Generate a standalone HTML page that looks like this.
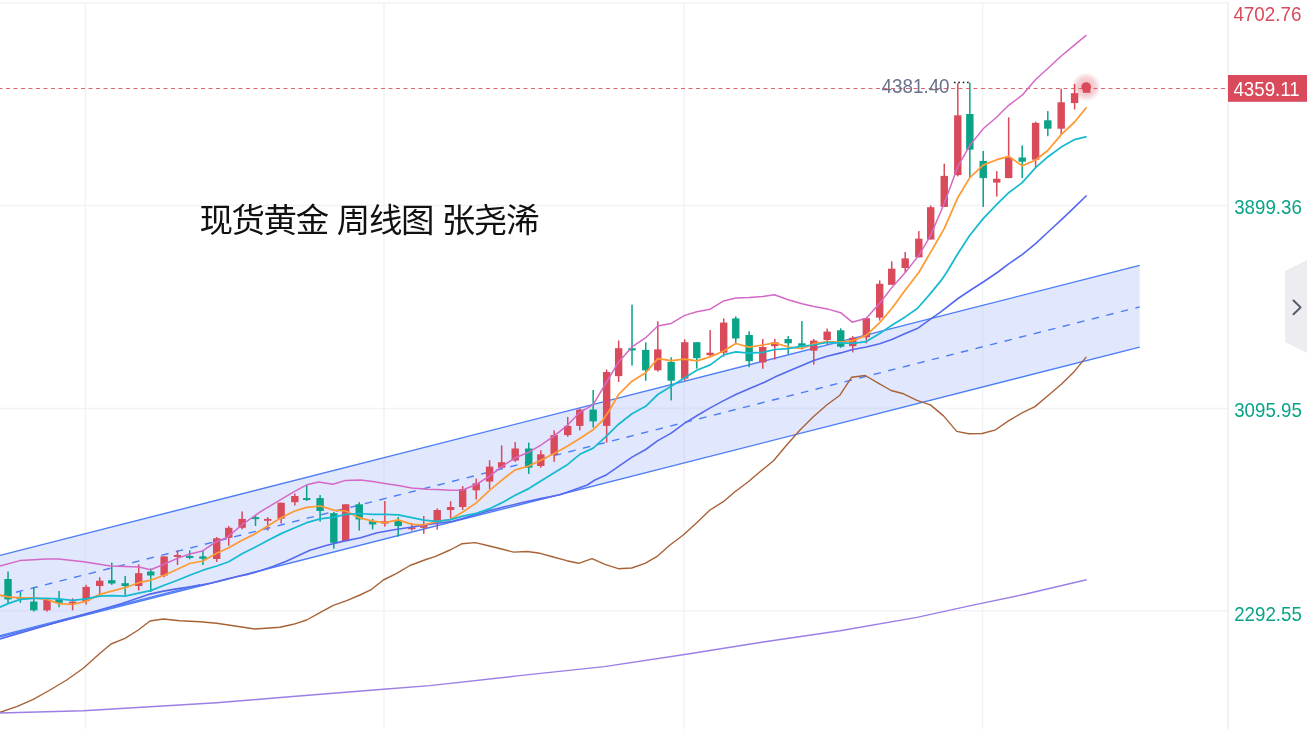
<!DOCTYPE html>
<html lang="zh-CN"><head><meta charset="utf-8"><title>现货黄金 周线图</title>
<style>html,body{margin:0;padding:0;background:#fff}body{width:1307px;height:729px;overflow:hidden;position:relative}svg{display:block;position:absolute;left:0;top:0}.ax{font-family:"Liberation Sans","Noto Sans CJK SC",sans-serif;font-size:20.2px}.ttl{font-family:"Liberation Sans","Noto Sans CJK SC",sans-serif;font-size:33.5px;letter-spacing:-1.4px;fill:#111}</style></head><body>
<svg width="1307" height="729" viewBox="0 0 1307 729">
<rect width="1307" height="729" fill="#fff"/>
<g stroke="#f1f3f7" stroke-width="1.5" fill="none">
<line x1="0" y1="205.5" x2="1228" y2="205.5"/>
<line x1="0" y1="408.4" x2="1228" y2="408.4"/>
<line x1="0" y1="610.7" x2="1228" y2="610.7"/>
<line x1="85.4" y1="3" x2="85.4" y2="729"/>
<line x1="384.0" y1="3" x2="384.0" y2="729"/>
<line x1="684.2" y1="3" x2="684.2" y2="729"/>
<line x1="982.6" y1="3" x2="982.6" y2="729"/>
</g>
<rect x="0" y="1.8" width="1229" height="2" fill="#f3f5f9"/>
<rect x="1227.3" y="2" width="1.8" height="727" fill="#eef0f5"/>
<polygon points="0,555.4 1139.7,265.4 1139.7,347.1 0,636.8" fill="#e1e8fd"/>
<g stroke="#d8e0f7" stroke-width="1.6" fill="none" clip-path="url(#chc)">
<line x1="0" y1="408.4" x2="1228" y2="408.4"/>
<line x1="0" y1="610.7" x2="1228" y2="610.7"/>
<line x1="85.4" y1="3" x2="85.4" y2="729"/>
<line x1="384.0" y1="3" x2="384.0" y2="729"/>
<line x1="684.2" y1="3" x2="684.2" y2="729"/>
<line x1="982.6" y1="3" x2="982.6" y2="729"/>
</g>
<defs><clipPath id="chc"><polygon points="0,555.4 1139.7,265.4 1139.7,347.1 0,636.8"/></clipPath></defs>
<g stroke="#4c7df6" stroke-width="1.4" fill="none">
<line x1="0" y1="555.4" x2="1139.7" y2="265.4"/>
<line x1="0" y1="636.8" x2="1139.7" y2="347.1"/>
<line x1="0" y1="635.6" x2="200" y2="584.6"/>
<line x1="0" y1="596.3" x2="1139.7" y2="306.9" stroke-dasharray="7.5 7.5" stroke-dashoffset="-1.4"/>
</g>
<line x1="-1.5" y1="88.5" x2="1225" y2="88.5" stroke="#d94a5a" stroke-width="1" stroke-dasharray="4 3.5" opacity="0.85"/>
<rect x="7.28" y="571.5" width="1.5" height="31.5" fill="#0aa387"/>
<rect x="4.33" y="579.0" width="7.4" height="20.4" fill="#0aa387"/>
<rect x="19.66" y="592.0" width="1.5" height="10.8" fill="#0aa387"/>
<rect x="16.71" y="597.0" width="7.4" height="1.9" fill="#0aa387"/>
<rect x="33.05" y="586.9" width="1.5" height="24.7" fill="#0aa387"/>
<rect x="30.10" y="601.6" width="7.4" height="8.7" fill="#0aa387"/>
<rect x="46.26" y="600.0" width="1.5" height="11.6" fill="#d94a5a"/>
<rect x="43.31" y="600.0" width="7.4" height="10.3" fill="#d94a5a"/>
<rect x="58.31" y="591.0" width="1.5" height="16.3" fill="#0aa387"/>
<rect x="55.36" y="599.4" width="7.4" height="3.4" fill="#0aa387"/>
<rect x="71.86" y="598.3" width="1.5" height="12.0" fill="#d94a5a"/>
<rect x="68.91" y="601.6" width="7.4" height="1.9" fill="#d94a5a"/>
<rect x="85.41" y="584.9" width="1.5" height="19.6" fill="#d94a5a"/>
<rect x="82.46" y="586.9" width="7.4" height="14.2" fill="#d94a5a"/>
<rect x="98.97" y="577.3" width="1.5" height="17.1" fill="#d94a5a"/>
<rect x="96.02" y="580.7" width="7.4" height="5.3" fill="#d94a5a"/>
<rect x="111.01" y="562.6" width="1.5" height="22.3" fill="#0aa387"/>
<rect x="108.06" y="580.2" width="7.4" height="3.3" fill="#0aa387"/>
<rect x="124.40" y="576.0" width="1.5" height="19.0" fill="#0aa387"/>
<rect x="121.45" y="583.2" width="7.4" height="2.8" fill="#0aa387"/>
<rect x="137.95" y="564.3" width="1.5" height="26.3" fill="#d94a5a"/>
<rect x="135.00" y="573.2" width="7.4" height="12.8" fill="#d94a5a"/>
<rect x="149.99" y="568.5" width="1.5" height="23.4" fill="#0aa387"/>
<rect x="147.04" y="571.5" width="7.4" height="4.0" fill="#0aa387"/>
<rect x="163.38" y="556.4" width="1.5" height="20.9" fill="#d94a5a"/>
<rect x="160.43" y="556.4" width="7.4" height="19.1" fill="#d94a5a"/>
<rect x="176.76" y="550.4" width="1.5" height="14.6" fill="#d94a5a"/>
<rect x="173.81" y="555.0" width="7.4" height="1.9" fill="#d94a5a"/>
<rect x="188.98" y="550.4" width="1.5" height="8.9" fill="#0aa387"/>
<rect x="186.03" y="556.0" width="7.4" height="1.9" fill="#0aa387"/>
<rect x="202.19" y="551.0" width="1.5" height="14.0" fill="#0aa387"/>
<rect x="199.24" y="556.4" width="7.4" height="2.4" fill="#0aa387"/>
<rect x="215.93" y="537.0" width="1.5" height="25.0" fill="#d94a5a"/>
<rect x="212.98" y="538.3" width="7.4" height="20.7" fill="#d94a5a"/>
<rect x="227.99" y="526.0" width="1.5" height="19.7" fill="#d94a5a"/>
<rect x="225.04" y="527.8" width="7.4" height="10.0" fill="#d94a5a"/>
<rect x="241.37" y="511.5" width="1.5" height="17.9" fill="#d94a5a"/>
<rect x="238.42" y="518.9" width="7.4" height="8.9" fill="#d94a5a"/>
<rect x="254.76" y="515.2" width="1.5" height="10.8" fill="#0aa387"/>
<rect x="251.81" y="517.2" width="7.4" height="1.9" fill="#0aa387"/>
<rect x="266.97" y="517.2" width="1.5" height="13.4" fill="#d94a5a"/>
<rect x="264.02" y="518.9" width="7.4" height="1.9" fill="#d94a5a"/>
<rect x="280.36" y="502.7" width="1.5" height="20.9" fill="#d94a5a"/>
<rect x="277.41" y="502.7" width="7.4" height="15.9" fill="#d94a5a"/>
<rect x="294.08" y="493.5" width="1.5" height="12.0" fill="#d94a5a"/>
<rect x="291.13" y="496.0" width="7.4" height="6.2" fill="#d94a5a"/>
<rect x="305.95" y="485.1" width="1.5" height="15.9" fill="#0aa387"/>
<rect x="303.00" y="498.1" width="7.4" height="1.9" fill="#0aa387"/>
<rect x="319.34" y="495.1" width="1.5" height="26.5" fill="#0aa387"/>
<rect x="316.39" y="498.1" width="7.4" height="12.9" fill="#0aa387"/>
<rect x="333.06" y="511.9" width="1.5" height="36.8" fill="#0aa387"/>
<rect x="330.11" y="513.2" width="7.4" height="29.6" fill="#0aa387"/>
<rect x="344.94" y="504.3" width="1.5" height="36.8" fill="#d94a5a"/>
<rect x="341.99" y="504.3" width="7.4" height="36.8" fill="#d94a5a"/>
<rect x="358.49" y="502.2" width="1.5" height="28.4" fill="#0aa387"/>
<rect x="355.54" y="504.3" width="7.4" height="15.1" fill="#0aa387"/>
<rect x="371.87" y="518.9" width="1.5" height="10.5" fill="#0aa387"/>
<rect x="368.92" y="521.1" width="7.4" height="3.3" fill="#0aa387"/>
<rect x="384.09" y="501.0" width="1.5" height="25.6" fill="#d94a5a"/>
<rect x="381.14" y="521.1" width="7.4" height="2.5" fill="#d94a5a"/>
<rect x="397.47" y="516.9" width="1.5" height="19.7" fill="#0aa387"/>
<rect x="394.52" y="521.1" width="7.4" height="5.0" fill="#0aa387"/>
<rect x="411.02" y="523.2" width="1.5" height="7.5" fill="#d94a5a"/>
<rect x="408.07" y="527.3" width="7.4" height="1.9" fill="#d94a5a"/>
<rect x="423.00" y="516.0" width="1.5" height="17.8" fill="#d94a5a"/>
<rect x="420.05" y="524.8" width="7.4" height="3.0" fill="#d94a5a"/>
<rect x="436.48" y="508.4" width="1.5" height="21.2" fill="#d94a5a"/>
<rect x="433.53" y="510.0" width="7.4" height="11.3" fill="#d94a5a"/>
<rect x="449.87" y="501.2" width="1.5" height="17.5" fill="#d94a5a"/>
<rect x="446.92" y="507.0" width="7.4" height="3.0" fill="#d94a5a"/>
<rect x="461.91" y="486.1" width="1.5" height="23.9" fill="#d94a5a"/>
<rect x="458.96" y="489.0" width="7.4" height="18.0" fill="#d94a5a"/>
<rect x="475.47" y="478.6" width="1.5" height="20.9" fill="#d94a5a"/>
<rect x="472.52" y="483.3" width="7.4" height="7.0" fill="#d94a5a"/>
<rect x="488.85" y="460.2" width="1.5" height="28.8" fill="#d94a5a"/>
<rect x="485.90" y="466.6" width="7.4" height="15.0" fill="#d94a5a"/>
<rect x="500.90" y="445.5" width="1.5" height="23.1" fill="#d94a5a"/>
<rect x="497.95" y="462.2" width="7.4" height="5.5" fill="#d94a5a"/>
<rect x="514.45" y="442.1" width="1.5" height="19.8" fill="#d94a5a"/>
<rect x="511.50" y="448.5" width="7.4" height="12.0" fill="#d94a5a"/>
<rect x="528.00" y="442.6" width="1.5" height="31.3" fill="#0aa387"/>
<rect x="525.05" y="448.5" width="7.4" height="19.2" fill="#0aa387"/>
<rect x="540.05" y="450.2" width="1.5" height="17.5" fill="#d94a5a"/>
<rect x="537.10" y="454.3" width="7.4" height="11.7" fill="#d94a5a"/>
<rect x="553.43" y="430.4" width="1.5" height="31.5" fill="#d94a5a"/>
<rect x="550.48" y="435.1" width="7.4" height="19.7" fill="#d94a5a"/>
<rect x="566.98" y="417.0" width="1.5" height="19.8" fill="#d94a5a"/>
<rect x="564.03" y="425.9" width="7.4" height="9.2" fill="#d94a5a"/>
<rect x="579.05" y="408.5" width="1.5" height="21.9" fill="#d94a5a"/>
<rect x="576.10" y="409.6" width="7.4" height="16.3" fill="#d94a5a"/>
<rect x="592.43" y="390.0" width="1.5" height="37.6" fill="#0aa387"/>
<rect x="589.48" y="409.6" width="7.4" height="11.8" fill="#0aa387"/>
<rect x="605.90" y="369.5" width="1.5" height="73.1" fill="#d94a5a"/>
<rect x="602.95" y="372.0" width="7.4" height="53.9" fill="#d94a5a"/>
<rect x="617.89" y="340.5" width="1.5" height="41.5" fill="#d94a5a"/>
<rect x="614.94" y="348.2" width="7.4" height="27.9" fill="#d94a5a"/>
<rect x="631.27" y="304.7" width="1.5" height="60.9" fill="#0aa387"/>
<rect x="628.32" y="348.2" width="7.4" height="2.3" fill="#0aa387"/>
<rect x="644.99" y="342.3" width="1.5" height="38.4" fill="#0aa387"/>
<rect x="642.04" y="349.9" width="7.4" height="20.4" fill="#0aa387"/>
<rect x="657.03" y="321.3" width="1.5" height="50.3" fill="#d94a5a"/>
<rect x="654.08" y="349.4" width="7.4" height="20.9" fill="#d94a5a"/>
<rect x="670.42" y="357.2" width="1.5" height="43.2" fill="#0aa387"/>
<rect x="667.47" y="361.9" width="7.4" height="18.8" fill="#0aa387"/>
<rect x="683.97" y="339.3" width="1.5" height="41.4" fill="#d94a5a"/>
<rect x="681.02" y="342.2" width="7.4" height="36.5" fill="#d94a5a"/>
<rect x="696.02" y="342.2" width="1.5" height="26.4" fill="#0aa387"/>
<rect x="693.07" y="342.2" width="7.4" height="16.0" fill="#0aa387"/>
<rect x="709.40" y="330.1" width="1.5" height="26.0" fill="#d94a5a"/>
<rect x="706.45" y="352.7" width="7.4" height="2.5" fill="#d94a5a"/>
<rect x="722.95" y="318.4" width="1.5" height="38.2" fill="#d94a5a"/>
<rect x="720.00" y="322.6" width="7.4" height="30.1" fill="#d94a5a"/>
<rect x="735.00" y="316.4" width="1.5" height="27.5" fill="#0aa387"/>
<rect x="732.05" y="318.4" width="7.4" height="20.1" fill="#0aa387"/>
<rect x="748.41" y="331.3" width="1.5" height="35.9" fill="#0aa387"/>
<rect x="745.46" y="335.0" width="7.4" height="26.2" fill="#0aa387"/>
<rect x="762.00" y="339.0" width="1.5" height="29.8" fill="#d94a5a"/>
<rect x="759.05" y="347.0" width="7.4" height="15.4" fill="#d94a5a"/>
<rect x="774.05" y="339.0" width="1.5" height="20.5" fill="#d94a5a"/>
<rect x="771.10" y="342.3" width="7.4" height="3.9" fill="#d94a5a"/>
<rect x="787.43" y="336.1" width="1.5" height="17.9" fill="#0aa387"/>
<rect x="784.48" y="339.0" width="7.4" height="4.3" fill="#0aa387"/>
<rect x="801.15" y="321.1" width="1.5" height="27.6" fill="#0aa387"/>
<rect x="798.20" y="343.3" width="7.4" height="3.4" fill="#0aa387"/>
<rect x="813.03" y="339.0" width="1.5" height="25.6" fill="#d94a5a"/>
<rect x="810.08" y="340.6" width="7.4" height="10.1" fill="#d94a5a"/>
<rect x="826.42" y="328.6" width="1.5" height="16.4" fill="#d94a5a"/>
<rect x="823.47" y="331.6" width="7.4" height="8.4" fill="#d94a5a"/>
<rect x="839.97" y="328.3" width="1.5" height="19.5" fill="#0aa387"/>
<rect x="837.02" y="330.3" width="7.4" height="16.4" fill="#0aa387"/>
<rect x="852.02" y="336.1" width="1.5" height="16.3" fill="#d94a5a"/>
<rect x="849.07" y="337.8" width="7.4" height="8.4" fill="#d94a5a"/>
<rect x="865.57" y="318.2" width="1.5" height="25.1" fill="#d94a5a"/>
<rect x="862.62" y="318.2" width="7.4" height="19.1" fill="#d94a5a"/>
<rect x="878.95" y="280.4" width="1.5" height="40.2" fill="#d94a5a"/>
<rect x="876.00" y="283.8" width="7.4" height="33.9" fill="#d94a5a"/>
<rect x="890.98" y="261.3" width="1.5" height="23.5" fill="#d94a5a"/>
<rect x="888.03" y="268.7" width="7.4" height="16.1" fill="#d94a5a"/>
<rect x="904.45" y="252.0" width="1.5" height="20.5" fill="#d94a5a"/>
<rect x="901.50" y="258.4" width="7.4" height="9.6" fill="#d94a5a"/>
<rect x="918.07" y="231.1" width="1.5" height="26.3" fill="#d94a5a"/>
<rect x="915.12" y="238.7" width="7.4" height="18.7" fill="#d94a5a"/>
<rect x="929.94" y="205.5" width="1.5" height="34.0" fill="#d94a5a"/>
<rect x="926.99" y="207.2" width="7.4" height="32.3" fill="#d94a5a"/>
<rect x="943.50" y="163.7" width="1.5" height="43.2" fill="#d94a5a"/>
<rect x="940.55" y="175.9" width="7.4" height="31.0" fill="#d94a5a"/>
<rect x="957.05" y="83.2" width="1.5" height="93.2" fill="#d94a5a"/>
<rect x="954.10" y="115.3" width="7.4" height="59.8" fill="#d94a5a"/>
<rect x="969.09" y="82.7" width="1.5" height="94.4" fill="#0aa387"/>
<rect x="966.14" y="114.0" width="7.4" height="35.6" fill="#0aa387"/>
<rect x="982.48" y="151.0" width="1.5" height="55.9" fill="#0aa387"/>
<rect x="979.53" y="160.9" width="7.4" height="17.2" fill="#0aa387"/>
<rect x="996.03" y="171.2" width="1.5" height="25.3" fill="#d94a5a"/>
<rect x="993.08" y="178.8" width="7.4" height="3.8" fill="#d94a5a"/>
<rect x="1007.91" y="117.3" width="1.5" height="60.8" fill="#d94a5a"/>
<rect x="1004.96" y="157.4" width="7.4" height="20.7" fill="#d94a5a"/>
<rect x="1021.46" y="145.4" width="1.5" height="32.7" fill="#0aa387"/>
<rect x="1018.51" y="157.5" width="7.4" height="4.2" fill="#0aa387"/>
<rect x="1034.85" y="121.7" width="1.5" height="45.9" fill="#d94a5a"/>
<rect x="1031.90" y="122.9" width="7.4" height="36.8" fill="#d94a5a"/>
<rect x="1047.06" y="111.1" width="1.5" height="25.1" fill="#0aa387"/>
<rect x="1044.11" y="120.3" width="7.4" height="8.4" fill="#0aa387"/>
<rect x="1060.44" y="88.6" width="1.5" height="46.0" fill="#d94a5a"/>
<rect x="1057.49" y="102.3" width="7.4" height="26.4" fill="#d94a5a"/>
<rect x="1073.83" y="83.9" width="1.5" height="25.6" fill="#d94a5a"/>
<rect x="1070.88" y="93.2" width="7.4" height="9.9" fill="#d94a5a"/>
<path d="M0.0 712.3 L16.7 706.7 L33.3 699.3 L50.0 690.0 L66.7 680.0 L83.3 668.3 L100.0 653.3 L111.0 644.0 L125.0 638.3 L138.3 630.0 L150.0 621.0 L163.3 619.0 L180.0 620.7 L200.0 621.7 L216.7 623.3 L233.3 625.7 L255.0 629.0 L280.0 627.3 L293.3 624.3 L306.7 620.0 L320.0 612.7 L333.3 605.3 L346.7 600.7 L360.0 595.0 L371.7 589.3 L383.3 580.0 L396.7 573.3 L410.0 565.5 L425.9 559.5 L435.0 556.7 L450.0 550.0 L461.7 543.8 L475.3 542.6 L488.3 545.7 L501.7 549.0 L513.6 552.1 L527.2 551.5 L540.0 553.3 L553.3 557.0 L566.7 560.7 L578.7 563.3 L592.0 558.7 L605.0 564.3 L618.3 568.7 L631.7 568.0 L645.0 563.3 L656.7 556.7 L670.0 545.0 L683.3 535.0 L696.7 522.7 L710.0 510.0 L723.3 501.7 L735.0 491.7 L748.3 481.7 L760.0 471.7 L773.3 461.0 L786.7 445.0 L800.0 430.0 L813.3 416.7 L826.7 405.0 L839.9 395.2 L851.7 377.2 L865.2 375.5 L878.7 383.4 L891.1 390.5 L903.5 393.8 L917.0 400.4 L930.4 404.9 L943.5 415.9 L956.7 431.4 L968.7 433.7 L982.2 433.5 L995.6 429.8 L1008.1 421.1 L1021.5 413.2 L1035.0 406.6 L1048.4 395.2 L1061.9 383.8 L1074.3 371.4 L1086.3 356.9" stroke="#a86236" stroke-width="1.4" fill="none" stroke-linejoin="round"/>
<path d="M0.0 638.9 L42.5 626.6 L85.0 614.3 L122.0 603.5 L150.0 594.1 L162.3 591.4 L174.7 589.1 L187.0 587.3 L199.4 585.4 L211.7 583.0 L224.1 579.9 L236.4 576.8 L248.8 574.1 L261.1 570.6 L273.5 566.3 L285.8 561.4 L298.1 555.8 L310.0 550.2 L327.1 545.3 L343.8 541.1 L360.6 537.8 L377.3 532.8 L394.0 529.8 L412.3 527.0 L424.7 524.9 L437.0 523.3 L450.0 521.9 L461.7 518.8 L474.1 515.1 L486.4 511.4 L503.7 507.0 L523.5 502.3 L542.0 498.4 L560.0 494.7 L570.6 491.0 L587.3 485.0 L594.9 480.0 L606.7 474.7 L618.6 466.3 L632.0 457.1 L645.7 449.5 L657.8 440.6 L671.2 433.1 L684.7 423.1 L696.8 415.8 L710.2 407.9 L723.7 400.6 L735.8 394.5 L749.1 388.7 L758.0 385.0 L765.1 382.0 L774.8 377.1 L788.2 371.3 L801.9 365.4 L813.8 360.4 L827.2 356.2 L840.7 352.9 L852.8 349.5 L866.3 347.0 L879.7 343.7 L891.8 339.5 L905.3 333.6 L917.3 328.6 L929.1 320.2 L940.8 311.9 L958.0 298.5 L970.0 290.5 L984.0 281.5 L998.0 272.0 L1008.7 263.8 L1022.2 254.6 L1035.6 243.7 L1048.1 232.0 L1060.7 220.3 L1074.1 207.7 L1086.6 195.5" stroke="#5569ee" stroke-width="1.6" fill="none" stroke-linejoin="round"/>
<path d="M0.0 566.0 L20.0 560.6 L46.8 559.0 L58.6 559.0 L83.7 561.8 L110.4 566.0 L138.9 567.1 L150.6 569.7 L164.0 564.3 L177.4 558.4 L189.0 554.3 L202.4 550.9 L216.7 541.5 L226.7 537.8 L243.5 523.6 L260.2 511.9 L276.9 501.8 L293.7 491.8 L306.7 484.8 L318.8 482.1 L333.0 484.3 L345.5 480.4 L360.6 480.1 L372.6 481.4 L384.8 483.4 L398.2 485.4 L411.8 488.1 L427.5 489.3 L436.7 489.5 L450.6 490.3 L462.7 490.0 L476.2 484.5 L489.6 476.1 L501.6 466.9 L515.2 457.7 L528.8 452.2 L540.8 445.1 L554.2 435.9 L567.7 425.1 L579.8 412.3 L593.2 404.6 L606.6 382.0 L618.6 361.9 L632.0 346.9 L645.7 337.7 L657.8 326.0 L671.2 323.4 L684.7 315.4 L696.8 311.7 L710.2 309.2 L723.7 300.9 L735.8 298.0 L749.1 297.5 L762.8 296.5 L774.3 294.8 L788.2 299.8 L801.9 303.8 L813.8 306.5 L827.2 308.9 L840.7 312.7 L852.1 322.2 L866.3 318.2 L879.7 303.2 L891.8 287.6 L905.3 272.5 L918.8 255.4 L930.7 235.3 L944.2 203.5 L957.8 166.7 L969.8 145.4 L983.2 128.7 L996.8 117.0 L1008.7 105.3 L1022.2 95.2 L1035.6 79.5 L1047.8 68.5 L1061.2 56.0 L1074.6 44.9 L1086.4 35.2" stroke="#d568c6" stroke-width="1.5" fill="none" stroke-linejoin="round"/>
<path d="M0.0 595.2 L8.0 596.9 L20.4 597.8 L33.5 597.8 L46.8 599.4 L58.6 603.6 L72.6 604.5 L86.2 601.1 L99.7 594.4 L111.8 591.1 L125.1 587.7 L138.7 582.7 L150.7 580.2 L164.1 575.2 L177.5 569.3 L189.7 563.5 L203.0 561.0 L216.7 553.2 L228.7 547.8 L242.1 540.3 L255.5 533.6 L267.7 526.1 L281.1 517.7 L294.8 511.0 L306.7 507.3 L320.1 506.0 L333.8 510.2 L345.7 511.0 L359.2 517.7 L372.6 521.1 L384.8 522.7 L398.2 519.9 L411.8 524.4 L423.8 525.0 L437.2 521.3 L450.6 519.6 L462.7 512.1 L476.2 502.9 L489.6 490.3 L501.6 480.3 L515.2 469.9 L528.8 466.0 L540.8 460.2 L554.2 453.5 L567.7 446.0 L579.8 438.4 L593.2 429.7 L602.3 420.9 L609.8 409.8 L618.6 394.5 L632.0 381.2 L645.7 372.8 L657.8 358.6 L671.2 360.6 L684.7 359.1 L696.8 360.8 L710.2 356.9 L723.7 351.0 L735.8 343.5 L749.1 347.2 L762.8 345.0 L774.8 342.8 L788.2 347.0 L801.9 348.7 L813.8 343.7 L827.2 341.6 L840.7 342.0 L852.8 340.6 L866.3 335.3 L879.7 322.7 L891.8 308.5 L905.3 290.1 L918.8 272.5 L930.7 252.1 L944.2 228.6 L957.8 197.7 L969.8 177.6 L983.2 165.1 L996.8 159.7 L1008.7 156.4 L1022.2 165.9 L1035.6 160.0 L1047.8 150.5 L1061.2 134.6 L1074.6 122.0 L1086.6 107.3" stroke="#ff9a33" stroke-width="1.75" fill="none" stroke-linejoin="round"/>
<path d="M0.0 607.3 L8.0 603.6 L20.4 599.4 L33.5 598.3 L46.8 598.3 L58.6 598.9 L72.6 600.3 L86.2 598.9 L99.7 596.1 L111.8 595.6 L125.1 596.1 L138.7 593.2 L150.7 590.6 L164.1 585.2 L177.5 580.2 L189.7 575.2 L203.0 570.2 L216.7 566.0 L228.7 561.7 L242.1 553.7 L255.5 547.0 L267.7 540.6 L281.1 533.6 L294.8 527.8 L306.7 522.7 L320.1 518.9 L333.8 517.2 L345.7 514.4 L359.2 513.5 L372.6 514.4 L384.8 514.4 L398.2 514.9 L411.8 517.7 L423.8 520.2 L437.2 521.3 L450.6 519.6 L462.7 516.2 L476.2 513.4 L489.6 508.7 L501.6 502.9 L515.2 495.3 L528.8 488.6 L540.8 481.1 L554.2 472.7 L567.7 464.4 L579.8 454.3 L593.2 448.1 L606.7 435.9 L618.6 424.2 L632.0 413.8 L645.7 406.3 L657.8 394.5 L671.2 386.2 L684.7 377.8 L696.8 370.3 L710.2 364.9 L723.7 354.9 L735.8 351.9 L749.1 353.2 L762.8 352.4 L774.8 349.5 L788.2 348.7 L801.9 346.2 L813.8 345.0 L827.2 342.3 L840.7 342.8 L852.8 343.3 L866.3 341.6 L879.7 333.6 L891.8 325.2 L905.3 316.9 L917.3 308.5 L929.1 295.1 L940.8 280.9 L946.9 272.0 L957.8 253.7 L969.8 235.3 L983.2 218.6 L996.8 204.4 L1008.7 192.7 L1022.2 182.6 L1035.6 167.6 L1048.1 156.7 L1061.2 147.1 L1074.6 139.6 L1086.6 136.6" stroke="#16bad0" stroke-width="1.75" fill="none" stroke-linejoin="round"/>
<path d="M0.0 713.0 L83.3 710.7 L150.0 706.7 L216.7 702.7 L283.3 697.3 L333.3 693.3 L383.3 689.3 L430.0 685.6 L517.1 675.9 L604.3 666.6 L686.3 654.3 L763.2 642.0 L840.1 630.7 L917.0 617.4 L968.3 606.1 L1024.7 594.3 L1086.6 579.8" stroke="#9b7fe6" stroke-width="1.45" fill="none" stroke-linejoin="round"/>
<defs><radialGradient id="glow"><stop offset="0" stop-color="#d94a5a" stop-opacity="0.42"/><stop offset="0.65" stop-color="#d94a5a" stop-opacity="0.24"/><stop offset="1" stop-color="#d94a5a" stop-opacity="0"/></radialGradient></defs>
<circle cx="1086.1" cy="87" r="14.6" fill="url(#glow)"/>
<rect x="1082.87" y="86" width="7.5" height="6.8" fill="#d94a5a"/><circle cx="1086.2" cy="87" r="4.8" fill="#d94a5a"/>
<g fill="#111"><circle cx="954.8" cy="82.4" r="0.85"/><circle cx="959.1" cy="82.4" r="0.85"/><circle cx="963.5" cy="82.4" r="0.85"/><circle cx="967.9" cy="82.4" r="0.85"/></g>
<text class="ttl" x="199.4" y="232.3">现货黄金</text><text class="ttl" x="336.8" y="232.3">周线图</text><text class="ttl" x="441.7" y="232.3">张尧浠</text>
<text class="ax" x="881.6" y="92.9" fill="#69728a" textLength="68" lengthAdjust="spacingAndGlyphs">4381.40</text>
<text class="ax" x="1233.4" y="20.8" fill="#d94a5a" textLength="68" lengthAdjust="spacingAndGlyphs">4702.76</text>
<rect x="1228" y="75" width="79" height="26.8" fill="#d94a5a"/>
<text class="ax" x="1233.4" y="95.9" fill="#fff" textLength="66.4" lengthAdjust="spacingAndGlyphs">4359.11</text>
<text class="ax" x="1234.2" y="213.8" fill="#0aa387" textLength="67.6" lengthAdjust="spacingAndGlyphs">3899.36</text>
<text class="ax" x="1234.2" y="416.8" fill="#0aa387" textLength="67.6" lengthAdjust="spacingAndGlyphs">3095.95</text>
<text class="ax" x="1234.2" y="620.8" fill="#0aa387" textLength="67.6" lengthAdjust="spacingAndGlyphs">2292.55</text>
<polygon points="1285,271 1307,260 1307,353 1285,342" fill="#ececf1"/>
<polyline points="1293.5,300.5 1300.6,307.4 1293.5,314.3" fill="none" stroke="#565b6b" stroke-width="2" stroke-linecap="round" stroke-linejoin="round"/>
</svg></body></html>
